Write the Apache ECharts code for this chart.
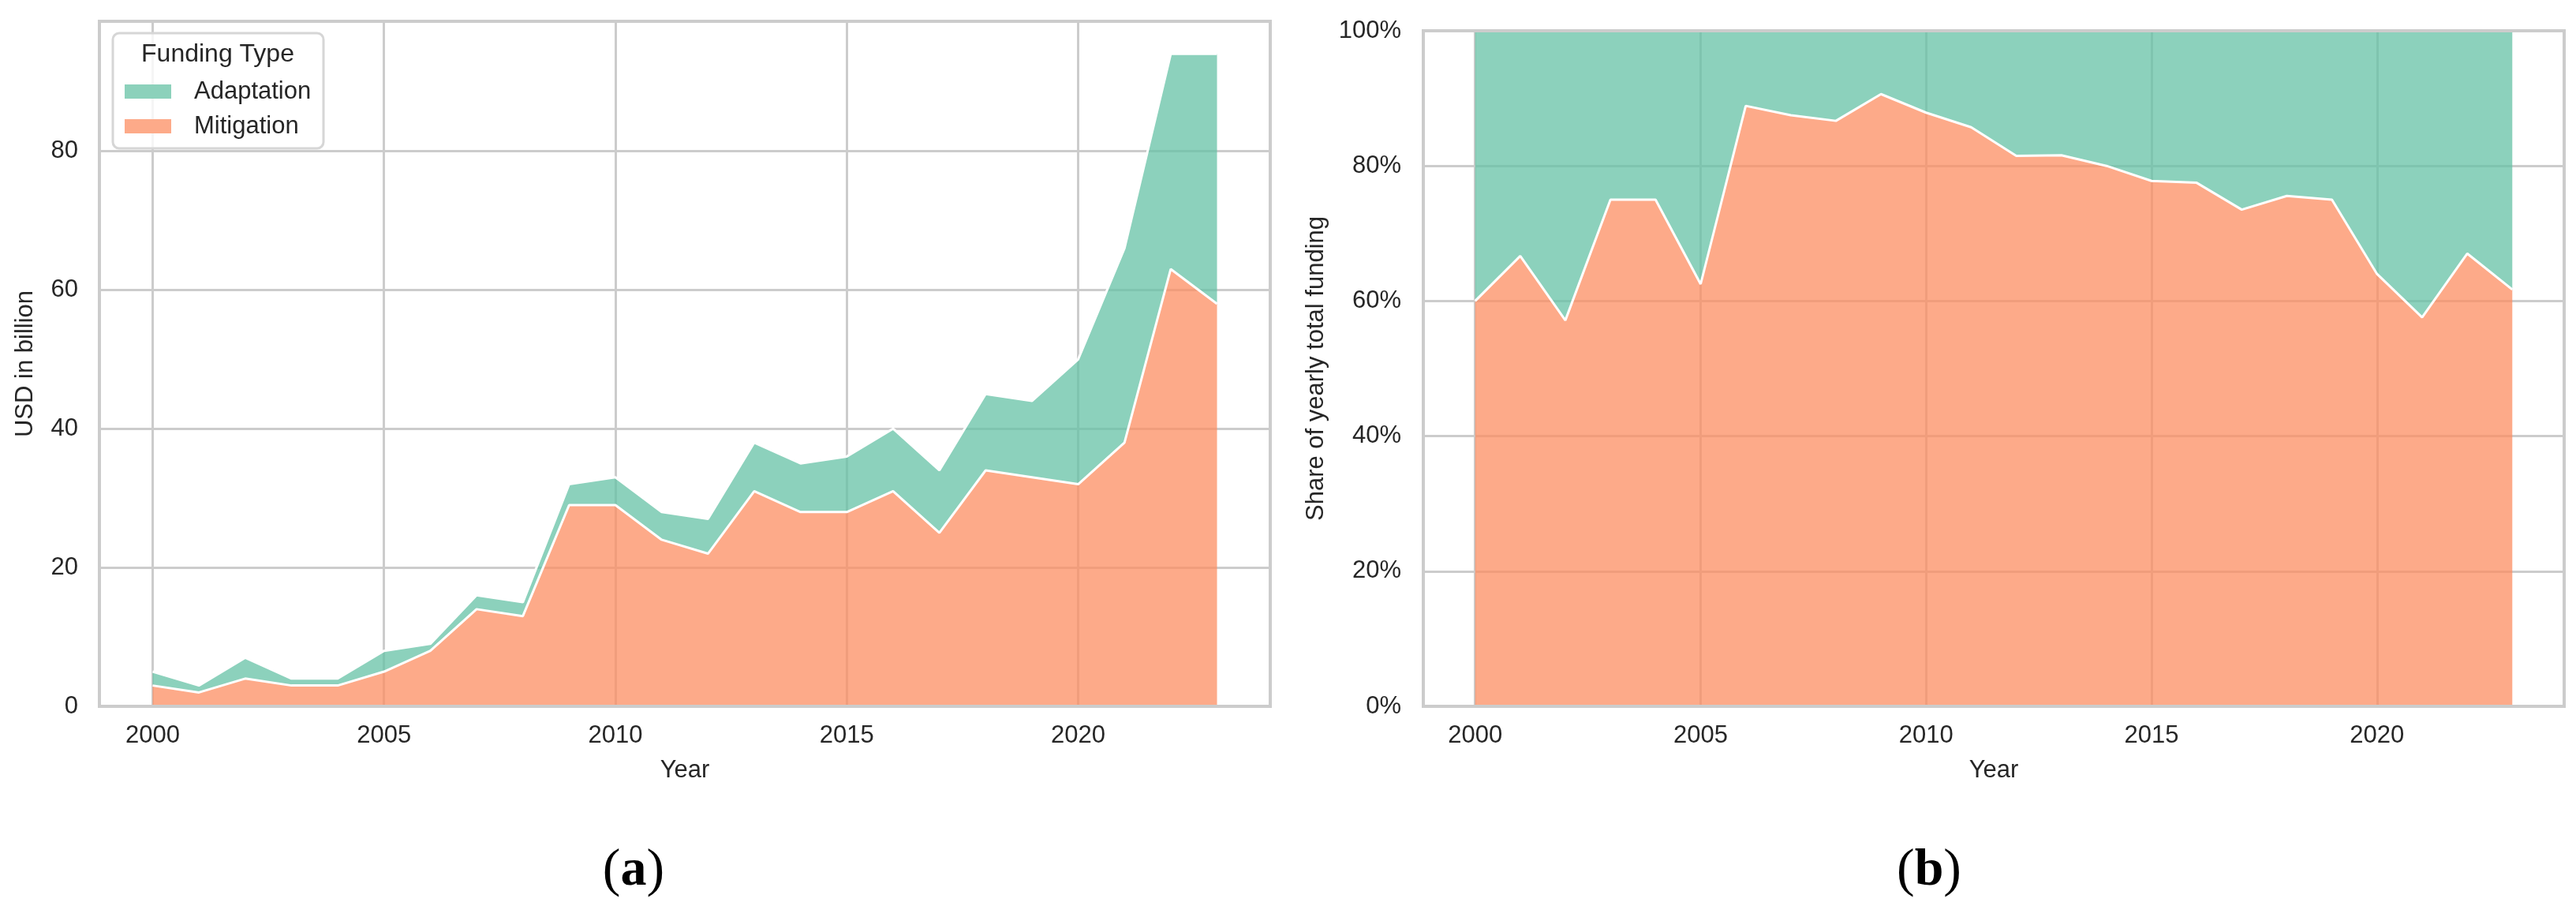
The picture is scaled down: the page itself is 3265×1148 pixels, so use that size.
<!DOCTYPE html>
<html>
<head>
<meta charset="utf-8">
<script src="https://cdn.jsdelivr.net/npm/echarts@6/dist/echarts.min.js"></script>
<style>
html,body{margin:0;padding:0;background:#fff;}
#chart{width:3265px;height:1148px;}
</style>
</head>
<body>
<div id="chart"></div>
<script>
// ---- data (USD billion) ----
const years = [2000,2001,2002,2003,2004,2005,2006,2007,2008,2009,2010,2011,2012,2013,2014,2015,2016,2017,2018,2019,2020,2021,2022,2023];
const mitigation = [3,2,4,3,3,5,8,14,13,29,29,24,22,31,28,28,31,25,34,33,32,38,63,58];
const adaptation = [2,1,3,1,1,3,1,2,2,3,4,4,5,7,7,8,9,9,11,11,18,28,31,36];
const seriesNames = ['Adaptation','Mitigation'];

// shares of yearly total
const totals = years.map((y,i)=>mitigation[i]+adaptation[i]);
const mitShare = years.map((y,i)=>mitigation[i]/totals[i]);
const adaShare = years.map((y,i)=>adaptation[i]/totals[i]);

const fontFamily = '"Liberation Sans", Arial, Helvetica, sans-serif';
const textColor = '#262626';
const gridColor = '#cccccc';
const greenBase = '#66c2a5', orangeBase = '#fc8d62';
const greenBlend = '#8cd1bb', orangeBlend = '#fdaa89';
const xMin = 1998.85, xMax = 2024.15;

// frame grids (axes, gridlines) and inner data grids aligned to the year range
const frames = [
  {left:126, top:27, width:1484, height:868},
  {left:1804, top:39, width:1446, height:856}
];
function innerGrid(f){
  const pxPerYear = f.width/(xMax-xMin);
  return {left:f.left + (years[0]-xMin)*pxPerYear, top:f.top, height:f.height,
          width:(years[years.length-1]-years[0])*pxPerYear, show:false};
}

function mainX(gi){
  return {type:'value', gridIndex:gi, min:xMin, max:xMax, splitNumber:5,
    name:'Year', nameLocation:'middle', nameGap:66,
    nameTextStyle:{fontSize:31,color:textColor,fontFamily},
    axisLine:{show:false}, axisTick:{show:false},
    axisLabel:{fontSize:31,color:textColor,fontFamily,margin:22,showMinLabel:false,showMaxLabel:false,formatter:v=>String(v)},
    splitLine:{show:true,lineStyle:{color:gridColor,width:3}}, z:0};
}
function borderX(gi,pos){
  return {type:'value', gridIndex:gi, min:xMin, max:xMax, position:pos, z:10,
    axisLine:{show:true,onZero:false,lineStyle:{color:gridColor,width:4}},
    axisTick:{show:false}, axisLabel:{show:false}, splitLine:{show:false}};
}
function catX(gi){
  return {type:'category', gridIndex:gi, data:years.map(String), boundaryGap:false, show:false};
}
function hiddenY(gi,max){
  return {type:'value', gridIndex:gi, min:0, max, show:false, splitLine:{show:false}};
}
function areaSeries(name, xi, yi, stack, vals, base, z){
  return {name, type:'line', xAxisIndex:xi, yAxisIndex:yi, stack, data:vals.slice(),
    showSymbol:false, symbol:'none', smooth:false,
    lineStyle:{color:'#ffffff', width:3},
    areaStyle:{color:base, opacity:0.75},
    itemStyle:{color:base}, z, animation:false};
}

const chart = echarts.init(document.getElementById('chart'), null, {renderer:'canvas'});
chart.setOption({
  backgroundColor:'#ffffff',
  animation:false,
  grid:[
    Object.assign({show:true, borderColor:gridColor, borderWidth:4, backgroundColor:'transparent'}, frames[0]),
    Object.assign({show:true, borderColor:gridColor, borderWidth:4, backgroundColor:'transparent'}, frames[1]),
    innerGrid(frames[0]),
    innerGrid(frames[1])
  ],
  xAxis:[ mainX(0), borderX(0,'bottom'), mainX(1), borderX(1,'bottom'), borderX(1,'top'), catX(2), catX(3) ],
  yAxis:[
    {type:'value', gridIndex:0, min:0, max:98.7, interval:20,
      name:'USD in billion', nameLocation:'middle', nameGap:78, nameRotate:90,
      nameTextStyle:{fontSize:31,color:textColor,fontFamily},
      axisLine:{show:false}, axisTick:{show:false},
      axisLabel:{fontSize:31,color:textColor,fontFamily,margin:27,showMaxLabel:false},
      splitLine:{show:true,lineStyle:{color:gridColor,width:3}}},
    {type:'value', gridIndex:1, min:0, max:1, interval:0.2,
      name:'Share of yearly total funding', nameLocation:'middle', nameGap:120, nameRotate:90,
      nameTextStyle:{fontSize:31,color:textColor,fontFamily},
      axisLine:{show:false}, axisTick:{show:false},
      axisLabel:{fontSize:31,color:textColor,fontFamily,margin:28,formatter:v=>Math.round(v*100)+'%'},
      splitLine:{show:true,lineStyle:{color:gridColor,width:3}}},
    hiddenY(2, 98.7),
    hiddenY(3, 1)
  ],
  legend:{
    show:true, orient:'vertical', left:158, top:100, padding:0,
    data:[{name:seriesNames[0], itemStyle:{color:greenBlend,borderWidth:0}},{name:seriesNames[1], itemStyle:{color:orangeBlend,borderWidth:0}}],
    icon:'rect', itemWidth:59, itemHeight:18, itemGap:12, selectedMode:false,
    textStyle:{fontSize:31,color:textColor,fontFamily,lineHeight:32,padding:[0,0,0,24]},
    z:10
  },
  graphic:[
    {type:'rect', z:5, shape:{x:143,y:42,width:267,height:146,r:8},
      style:{fill:'rgba(255,255,255,0.8)', stroke:'#d6d6d6', lineWidth:3}},
    {type:'text', z:11, style:{x:276,y:69,text:'Funding Type',fontSize:32,fontFamily:'Liberation Sans',fill:textColor,align:'center',verticalAlign:'middle'}},
    {type:'text', z:11, style:{x:803,y:1104,text:'{p|(}{b|a}{p|)}',align:'center',verticalAlign:'middle',
      rich:{p:{fontSize:68,fontFamily:'Liberation Serif',fill:'#000'},b:{fontSize:66,fontFamily:'Liberation Serif',fontWeight:'bold',fill:'#000'}}}},
    {type:'text', z:11, style:{x:2445,y:1104,text:'{p|(}{b|b}{p|)}',align:'center',verticalAlign:'middle',
      rich:{p:{fontSize:68,fontFamily:'Liberation Serif',fill:'#000'},b:{fontSize:66,fontFamily:'Liberation Serif',fontWeight:'bold',fill:'#000'}}}}
  ],
  series:[
    areaSeries(seriesNames[1], 5, 2, 'abs', mitigation, orangeBase, 3),
    areaSeries(seriesNames[0], 5, 2, 'abs', adaptation, greenBase, 2),
    areaSeries(seriesNames[1], 6, 3, 'share', mitShare, orangeBase, 3),
    areaSeries(seriesNames[0], 6, 3, 'share', adaShare, greenBase, 2)
  ]
});
</script>
</body>
</html>
